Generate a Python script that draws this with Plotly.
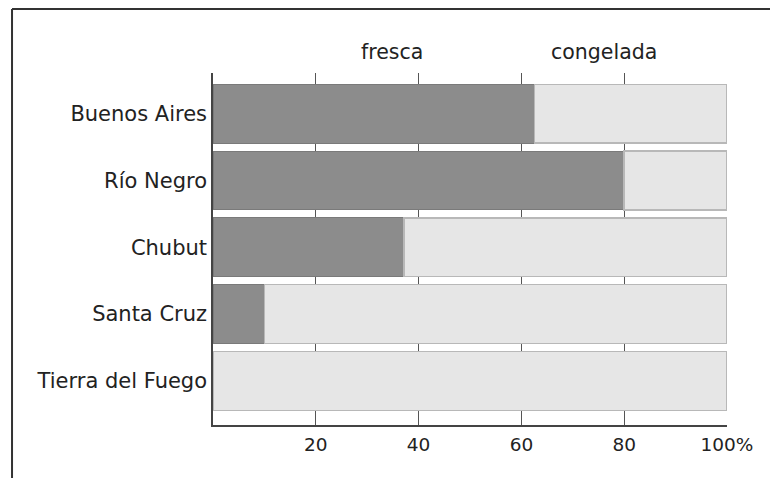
import plotly.graph_objects as go

provincias = ["Buenos Aires", "Río Negro", "Chubut", "Santa Cruz", "Tierra del Fuego"]
fresca = [62.5, 80, 37.2, 10, 0]
congelada = [37.5, 20, 62.8, 90, 100]
series_names = ["fresca", "congelada"]
label_x = [34.8, 76.0]
tick_vals = [20, 40, 60, 80, 100]
tick_text = ["20", "40", "60", "80", "100%"]

FONT = "DejaVu Sans"
fig = go.Figure()
fig.add_trace(go.Bar(y=provincias, x=fresca, orientation="h", name=series_names[0],
                     marker=dict(color="#8c8c8c", line=dict(color="#7a7a7a", width=1))))
fig.add_trace(go.Bar(y=provincias, x=congelada, orientation="h", name=series_names[1],
                     marker=dict(color="#e6e6e6", line=dict(color="#b8b8b8", width=1.5))))

for name, lx in zip(series_names, label_x):
    fig.add_annotation(x=lx, y=1.0, xref="x", yref="paper", yanchor="bottom",
                       yshift=7, text=name, showarrow=False,
                       font=dict(family=FONT, size=20.5, color="#222"))

# frame (top and left lines)
fig.add_shape(type="line", xref="paper", yref="paper", x0=-0.391, x1=1.2,
              y0=1.1818, y1=1.1818, line=dict(color="#333", width=2))
fig.add_shape(type="line", xref="paper", yref="paper", x0=-0.391, x1=-0.391,
              y0=-0.2, y1=1.1818, line=dict(color="#333", width=2))

fig.update_layout(
    width=770, height=470,
    margin=dict(l=205, r=51, t=65, b=53),
    barmode="stack", bargap=0.12, showlegend=False,
    plot_bgcolor="white", paper_bgcolor="white",
    font=dict(family=FONT, size=21, color="#222"),
    xaxis=dict(range=[0, 100], tickvals=tick_vals, ticktext=tick_text,
               showgrid=False, zeroline=False, showline=True, linecolor="#444",
               linewidth=1.5, ticks="", ticklabelstandoff=2,
               tickfont=dict(size=18.5),
               minor=dict(tickvals=[20, 40, 60, 80], showgrid=True,
                          gridcolor="#555", gridwidth=1)),
    yaxis=dict(range=[4.66, -0.61], showgrid=False, zeroline=False,
               showline=True, linecolor="#444", linewidth=1.5, ticks="",
               ticklabelstandoff=0),
)
fig.write_html("out.html")
